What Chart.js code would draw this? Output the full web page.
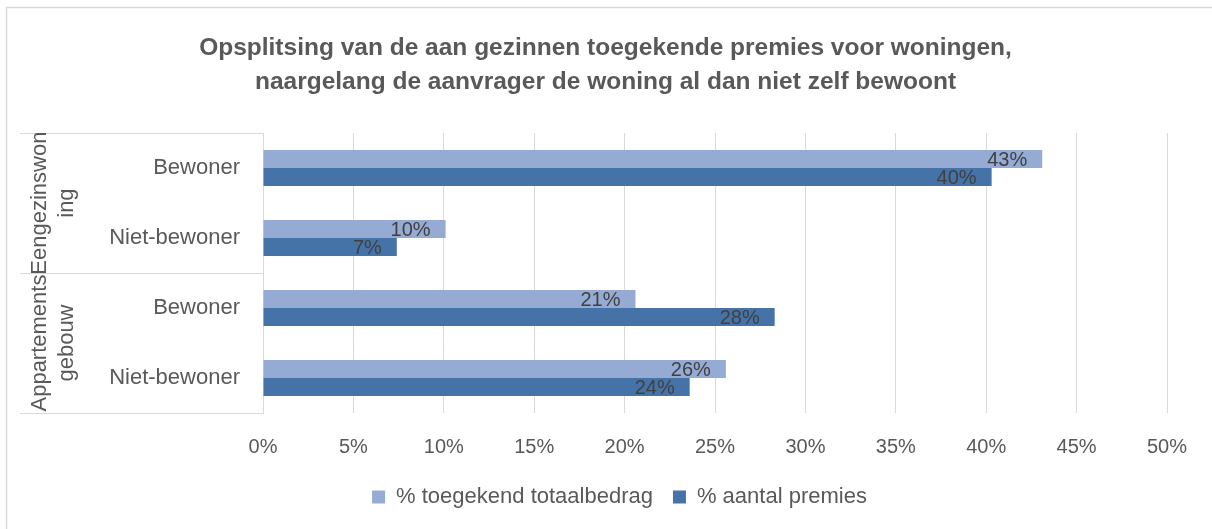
<!DOCTYPE html>
<html>
<head>
<meta charset="utf-8">
<script src="https://cdn.jsdelivr.net/npm/chart.js@4.4.1/dist/chart.umd.min.js"></script>
<style>
  body { margin: 0; background: #fff; }
</style>
</head>
<body>
<canvas id="premieChart" width="1212" height="529"></canvas>
<script>
// data
var categories = ['Bewoner', 'Niet-bewoner', 'Bewoner', 'Niet-bewoner'];
var groupLabels = [['Eengezinswon', 'ing'], ['Appartements', 'gebouw']];
var groupSizes = [2, 2];
var totaalbedrag = [43.1, 10.1, 20.6, 25.6];
var aantalPremies = [40.3, 7.4, 28.3, 23.6];
var seriesNames = ['% toegekend totaalbedrag', '% aantal premies'];
var titleLines = [
    'Opsplitsing van de aan gezinnen toegekende premies voor woningen,',
    'naargelang de aanvrager de woning al dan niet zelf bewoont'
];

var fontFamily = '"Liberation Sans", Arial, sans-serif';
var textColor = '#595959';
var lineColor = '#d9d9d9';

// frame, group labels and separators of the two-level category axis
var groupAxis = {
    id: 'groupAxis',
    afterLayout: function (chart) {
        // centre title and legend row like the original
        chart.legend.left += 26;
        chart.legend.right += 26;
        chart.titleBlock.left += 12;
        chart.titleBlock.right += 12;
    },
    afterDraw: function (chart) {
        var ctx = chart.ctx;
        var area = chart.chartArea;
        var y = chart.scales.y;
        ctx.save();
        ctx.strokeStyle = lineColor;
        ctx.lineWidth = 1.5;
        ctx.strokeRect(6.5, 7.5, 1400, 700);

        ctx.lineWidth = 1;
        var start = 0;
        var bounds = [area.top];
        groupSizes.forEach(function (n) {
            start += n;
            if (start < categories.length) {
                bounds.push((y.getPixelForValue(start - 1) + y.getPixelForValue(start)) / 2);
            }
        });
        bounds.push(area.bottom);
        bounds.forEach(function (b) {
            ctx.beginPath();
            ctx.moveTo(20, Math.round(b) + 0.5);
            ctx.lineTo(area.left, Math.round(b) + 0.5);
            ctx.stroke();
        });

        ctx.fillStyle = textColor;
        ctx.font = '22px ' + fontFamily;
        ctx.textAlign = 'center';
        ctx.textBaseline = 'middle';
        for (var g = 0; g < groupLabels.length; g++) {
            var cy = (bounds[g] + bounds[g + 1]) / 2;
            var lines = groupLabels[g];
            lines.forEach(function (txt, i) {
                ctx.save();
                ctx.translate(39 + i * 27, cy);
                ctx.rotate(-Math.PI / 2);
                ctx.fillText(txt, 0, 1);
                ctx.restore();
            });
        }
        ctx.restore();
    }
};

// value labels at the inside end of each bar
var barLabels = {
    id: 'barLabels',
    afterDatasetsDraw: function (chart) {
        var ctx = chart.ctx;
        ctx.save();
        ctx.fillStyle = '#404040';
        ctx.font = '20px ' + fontFamily;
        ctx.textAlign = 'right';
        ctx.textBaseline = 'middle';
        chart.data.datasets.forEach(function (ds, di) {
            chart.getDatasetMeta(di).data.forEach(function (bar, i) {
                ctx.fillText(Math.round(ds.data[i]) + '%', bar.x - 15, bar.y + 1);
            });
        });
        ctx.restore();
    }
};

new Chart('premieChart', {
    type: 'bar',
    data: {
        labels: categories,
        datasets: [{
            label: seriesNames[0],
            data: totaalbedrag,
            backgroundColor: '#95abd3'
        }, {
            label: seriesNames[1],
            data: aantalPremies,
            backgroundColor: '#4673a7'
        }]
    },
    options: {
        indexAxis: 'y',
        responsive: false,
        animation: false,
        categoryPercentage: 0.515,
        barPercentage: 1,
        layout: { padding: { left: 20, right: 45, top: 0, bottom: 11 } },
        scales: {
            x: {
                min: 0,
                max: 50,
                afterFit: function (s) { s.height = 53; },
                grid: { color: lineColor, drawTicks: false },
                border: { display: false },
                ticks: {
                    stepSize: 5,
                    padding: 22,
                    color: textColor,
                    font: { family: fontFamily, size: 20 },
                    callback: function (v) { return v + '%'; }
                }
            },
            y: {
                afterFit: function (s) { s.width = 243; },
                grid: { display: false, drawTicks: false },
                border: { display: true, color: lineColor },
                ticks: {
                    padding: 23,
                    color: textColor,
                    font: { family: fontFamily, size: 22 }
                }
            }
        },
        plugins: {
            title: {
                display: true,
                text: titleLines,
                color: textColor,
                font: { family: fontFamily, size: 24.5, weight: 'bold', lineHeight: 1.39 },
                padding: { top: 31, bottom: 34 }
            },
            legend: {
                position: 'bottom',
                labels: {
                    boxWidth: 13,
                    boxHeight: 13,
                    padding: 20,
                    color: textColor,
                    font: { family: fontFamily, size: 22 }
                }
            },
            tooltip: { enabled: false }
        }
    },
    plugins: [groupAxis, barLabels]
});
</script>
</body>
</html>
